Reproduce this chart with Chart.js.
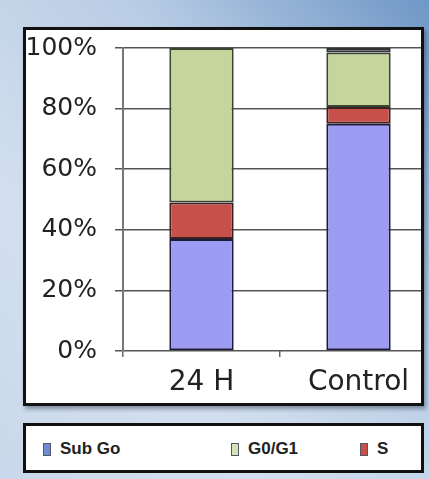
<!DOCTYPE html>
<html>
<head>
<meta charset="utf-8">
<script src="https://cdn.jsdelivr.net/npm/chart.js@4/dist/chart.umd.min.js"></script>
<style>
    html, body { margin: 0; padding: 0; }
    body {
        width: 429px; height: 479px; position: relative; overflow: hidden;
        background: linear-gradient(to bottom left, #6f97c6 0%, #b9cde5 35%, #d3dfee 70%, #c9d8ea 100%);
    }
    #panel {
        position: absolute; left: 23px; top: 27px; width: 395px; height: 373px;
        border: 3px solid #111; background: #fff; overflow: hidden;
        box-shadow: 2px 3px 4px rgba(40, 50, 70, 0.45);
    }
    #chartWrap { position: absolute; left: 0; top: -15px; width: 411px; height: 388px; }
    #legend {
        position: absolute; left: 23px; top: 423px; width: 395px; height: 44px;
        border: 3px solid #111; background: #fff;
        font-family: "Liberation Sans Narrow", "Liberation Sans", sans-serif;
        font-weight: bold; font-size: 17px; color: #222;
    }
    .item { position: absolute; top: 13px; display: flex; align-items: center; }
    .box { width: 8px; height: 13px; margin-right: 9px; box-sizing: border-box; border: 1px solid #556; }
</style>
</head>
<body>
<div id="panel"><div id="chartWrap"><canvas id="cellCycleChart"></canvas></div></div>
<div id="legend"></div>
<script>
const categories = ['24 H', 'Control'];
const subGo = [37, 75];
const sPhase = [12, 5.5];
const g0g1 = [51, 18];
const topSliver = [null, 1.5];
const yTicks = [0, 20, 40, 60, 80, 100];

const colors = { subGo: '#9c9cf5', s: '#c8504a', g0g1: '#c5d69c', top: '#4e5f72' };

const datasets = [
    { label: 'Sub Go', data: subGo, backgroundColor: colors.subGo, borderColor: '#1c1c3c' },
    { label: 'S', data: sPhase, backgroundColor: colors.s, borderColor: '#3a2020' },
    { label: 'G0/G1', data: g0g1, backgroundColor: colors.g0g1, borderColor: '#3b4430' },
    { label: 'G2/M', data: topSliver, backgroundColor: colors.top, borderColor: '#333' }
].map(d => ({ ...d, borderWidth: 2, barPercentage: 0.82, categoryPercentage: 0.5, borderSkipped: false }));

const tickFont = { family: 'DejaVu Sans', size: 25 };

new Chart(document.getElementById('cellCycleChart'), {
    type: 'bar',
    data: { labels: categories, datasets },
    options: {
        responsive: true,
        maintainAspectRatio: false,
        animation: false,
        layout: { padding: { top: 2, right: 0, left: 0, bottom: 0 } },
        plugins: { legend: { display: false }, tooltip: { enabled: false } },
        scales: {
            x: {
                stacked: true,
                grid: { drawOnChartArea: false, tickLength: 6, color: '#666', lineWidth: 1.5 },
                border: { display: false },
                ticks: { font: { ...tickFont, size: 28 }, color: '#222', padding: 9 },
                afterFit: s => { s.height = 52; }
            },
            y: {
                stacked: true,
                min: 0,
                max: 100,
                afterBuildTicks: s => { s.ticks = yTicks.map(v => ({ value: v })); },
                grid: { color: '#555', lineWidth: 1.5, tickLength: 8 },
                border: { color: '#777', width: 2 },
                ticks: { font: tickFont, color: '#222', padding: 18, callback: v => v + '%' },
                afterFit: s => { s.width = 97; }
            }
        }
    }
});

// Legend drawn as HTML, in the reference's order
const legendItems = [
    { label: 'Sub Go', color: '#6f8bd6', left: 17 },
    { label: 'G0/G1', color: '#d4e2b8', left: 205 },
    { label: 'S', color: colors.s, left: 334 }
];
const legendEl = document.getElementById('legend');
legendItems.forEach(it => {
    const div = document.createElement('div');
    div.className = 'item';
    div.style.left = it.left + 'px';
    div.innerHTML = `<span class="box" style="background:${it.color}"></span><span>${it.label}</span>`;
    legendEl.appendChild(div);
});
</script>
</body>
</html>
